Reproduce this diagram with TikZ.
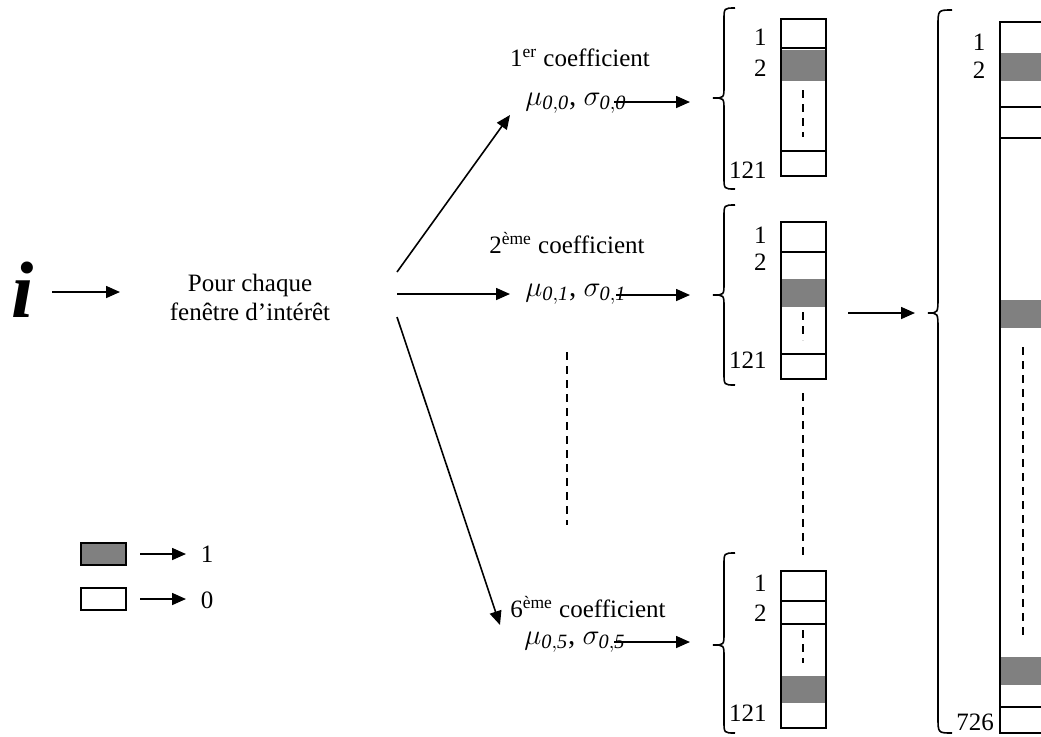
\documentclass[tikz,border=0pt]{standalone}
\usepackage{fontspec}
\setmainfont{Liberation Serif}
\usetikzlibrary{arrows.meta}

\definecolor{cellgray}{HTML}{808080}

% curly brace: x ends, x stem, x tip, top, tip, bottom, radius
\newcommand{\curlybrace}[7]{%
  \draw[thick] ({#1},{#4}) .. controls ({#2},{#4}) .. ({#2},{#4+#7})
    -- ({#2},{#5-#7}) .. controls ({#2},{#5}) .. ({#3},{#5})
    .. controls ({#2},{#5}) .. ({#2},{#5+#7})
    -- ({#2},{#6-#7}) .. controls ({#2},{#6}) .. ({#1},{#6});}

\begin{document}
\begin{tikzpicture}[x=0.5pt,y=-0.5pt,font=\fontsize{12.5}{14.5}\selectfont,
  >={Triangle[length=7pt,width=6pt]},
  line/.style={thick},
  cell/.style={fill=cellgray},
  dots/.style={thick,dash pattern=on 4pt off 3pt},
  txt/.style={inner sep=0pt,align=center},
  musig/.style={txt,font=\fontsize{14.5}{16}\selectfont}]
  \clip (0,0) rectangle (1041,736);

  % Input and window.
  \node[txt,font=\fontsize{40}{40}\selectfont\bfseries\itshape] (inp) at (23,290) {i};
  \node[txt] (pour) at (250,297) {Pour chaque\\fenêtre d'intérêt};
  \coordinate (inpA) at (52,292);
  \coordinate (inpB) at (120,292);
  \draw[line,->] (inpA) -- (inpB);

  % Coefficients.
  \node[txt] (coefA) at (580,58) {1\textsuperscript{er} coefficient};
  \node[musig] (muA) at (576,103) {$\mu_{\mathit{0,0}}$, $\sigma_{\mathit{0,0}}$};
  \node[txt] (coefB) at (567,243) {2\textsuperscript{ème} coefficient};
  \node[musig] (muB) at (576,294) {$\mu_{\mathit{0,1}}$, $\sigma_{\mathit{0,1}}$};
  \node[txt] (coefF) at (588,607) {6\textsuperscript{ème} coefficient};
  \node[musig] (muF) at (575,642) {$\mu_{\mathit{0,5}}$, $\sigma_{\mathit{0,5}}$};

  \coordinate (fanA) at (397,272);
  \coordinate (fanB) at (397,294);
  \coordinate (fanF) at (397,317);
  \coordinate (tipA) at (510,115);
  \coordinate (tipB) at (510,294);
  \coordinate (tipF) at (500,625);
  \draw[line,->] (fanA) -- (tipA);
  \draw[line,->] (fanB) -- (tipB);
  \draw[line,->] (fanF) -- (tipF);
  \draw[dots] (567,352) -- (567,525);

  \coordinate (outA) at (614,102);
  \coordinate (outB) at (616,295);
  \coordinate (outF) at (614,642);
  \coordinate (brA) at (690,102);
  \coordinate (brB) at (690,295);
  \coordinate (brF) at (690,642);
  \draw[line,->] (outA) -- (brA);
  \draw[line,->] (outB) -- (brB);
  \draw[line,->] (outF) -- (brF);

  % Small vectors.
  \fill[cell] (781,50) rectangle (826,81);
  \draw[line] (781,19) rectangle (826,176) (781,48) -- (826,48) (781,151) -- (826,151);
  \draw[dots] (803,90) -- (803,137);
  \curlybrace{735}{724}{713}{8}{98}{189}{12}
  \node[txt,anchor=east] (a1) at (767,37) {1};
  \node[txt,anchor=east] (a2) at (767,68) {2};
  \node[txt,anchor=east] (a121) at (767,170) {121};

  \fill[cell] (781,279) rectangle (826,307);
  \draw[line] (781,222) rectangle (826,379) (781,252) -- (826,252) (781,354) -- (826,354);
  \draw[dots] (803,312) -- (803,340);
  \curlybrace{735}{724}{713}{205}{295}{385}{12}
  \node[txt,anchor=east] (b1) at (767,235) {1};
  \node[txt,anchor=east] (b2) at (767,262) {2};
  \node[txt,anchor=east] (b121) at (767,360) {121};

  \draw[dots] (803,393) -- (803,560);

  \fill[cell] (781,676) rectangle (826,703);
  \draw[line] (781,571) rectangle (826,728) (781,601) -- (826,601) (781,624) -- (826,624);
  \draw[dots] (803,630) -- (803,663);
  \curlybrace{735}{724}{713}{553}{645}{733}{12}
  \node[txt,anchor=east] (f1) at (767,583) {1};
  \node[txt,anchor=east] (f2) at (767,613) {2};
  \node[txt,anchor=east] (f121) at (767,713) {121};

  % Concatenated vector.
  \coordinate (catA) at (848,313);
  \coordinate (catB) at (915,313);
  \draw[line,->] (catA) -- (catB);
  \fill[cell] (1000,53) rectangle (1070,81);
  \fill[cell] (1000,300) rectangle (1070,328);
  \fill[cell] (1000,657) rectangle (1070,685);
  \draw[line] (1000,22) rectangle (1070,733) (1000,107) -- (1070,107)
    (1000,138) -- (1070,138) (1000,707) -- (1070,707);
  \draw[dots] (1023,347) -- (1023,640);
  \curlybrace{952}{938}{928}{10}{313}{733}{16}
  \node[txt] (c1) at (979,42) {1};
  \node[txt] (c2) at (979,70) {2};
  \node[txt] (c726) at (975,722) {726};

  % Legend.
  \draw[line,fill=cellgray] (81,543) rectangle (126,565);
  \draw[line] (81,588) rectangle (126,610);
  \coordinate (legA) at (140,554);
  \coordinate (legB) at (186,554);
  \coordinate (legC) at (140,599);
  \coordinate (legD) at (186,599);
  \draw[line,->] (legA) -- (legB);
  \draw[line,->] (legC) -- (legD);
  \node[txt] (one) at (207,554) {1};
  \node[txt] (zero) at (207,600) {0};
\end{tikzpicture}
\end{document}
